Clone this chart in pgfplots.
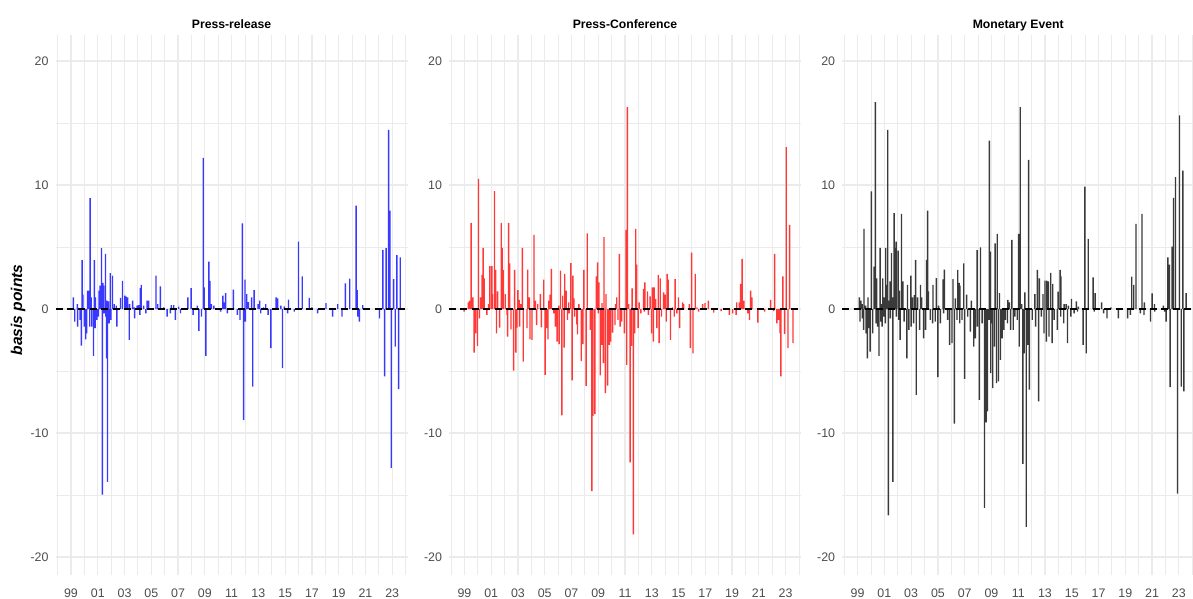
\documentclass[border=0pt]{standalone}
\usepackage{pgfplots}
\pgfplotsset{compat=1.18}
\usepackage{fontspec}
\setmainfont{Liberation Sans}
\definecolor{gridc}{HTML}{EBEBEB}
\definecolor{tickc}{HTML}{4D4D4D}
\definecolor{cblue}{HTML}{3838FF}
\definecolor{cred}{HTML}{FF3838}
\definecolor{cblack}{HTML}{3A3A3A}
\pgfplotsset{
 panel/.style={
  scale only axis, width=176pt, height=270pt,
  xmin=1997.85, xmax=2024.15, ymin=-21.45, ymax=22.1,
  axis line style={draw=none},
  major tick length=0pt, minor tick length=0pt,
  xtick={1999,2001,...,2023},
  xticklabels={99,01,03,05,07,09,11,13,15,17,19,21,23},
  minor xtick={1998,2000,...,2024},
  ytick={-20,-10,0,10,20},
  yticklabels={-20,-10,0,10,20},
  minor ytick={-15,-5,5,15},
  grid=both,
  major grid style={draw=gridc, line width=0.6pt},
  minor grid style={draw=gridc, line width=0.45pt},
  tick label style={font=\fontsize{6.2}{7}\selectfont, text=tickc},
  xticklabel style={yshift=-3.5pt},
  /pgf/number format/assume math mode=true,
  title style={font=\bfseries\fontsize{6.1}{7}\selectfont, at={(0.5,1)}, anchor=base, yshift=-3pt},
  anchor=south west,
 },
 bars/.style={ybar, bar width=0.7pt, bar shift=0pt, draw=none, no markers},
 zero/.style={black, line width=0.8pt, dash pattern=on 3.5pt off 2.2pt, no markers},
}
\begin{document}
\begin{tikzpicture}
\useasboundingbox (0,0) rectangle (596.5pt,299.5pt);
\node[rotate=90, font=\bfseries\itshape\fontsize{7.8}{9}\selectfont] at (9pt,144.5pt) {basis points};

% ---------------- Press-release ----------------
\begin{axis}[panel, at={(27.8pt,12pt)}, title={Press-release}]
\addplot[bars, fill=cblue] coordinates {
(1999.18,0.94)(1999.48,0.40)(1999.83,3.95)(1999.90,1.16)(2000.23,1.48)(2000.33,1.48)
(2000.43,8.95)(2000.50,0.94)(2000.75,3.95)(2000.83,0.94)(2001.10,1.48)(2001.18,1.88)
(2001.23,1.2)(2001.28,4.92)(2001.38,2.10)(2001.45,1.88)(2001.58,4.44)(2001.68,0.67)
(2001.80,0.62)(2001.93,2.90)(2002.10,2.69)(2002.23,0.40)(2002.38,0.27)(2002.70,0.89)
(2002.85,2.28)(2003.03,1.08)(2003.13,0.99)(2003.23,0.94)(2003.38,0.40)(2003.60,0.67)
(2003.73,0.13)(2003.93,0.27)(2004.05,0.32)(2004.18,1.69)(2004.25,1.94)(2004.43,0.27)
(2004.68,0.67)(2004.80,0.67)(2005.35,2.69)(2005.48,0.40)(2005.68,1.83)(2005.93,0.13)
(2006.50,0.32)(2006.68,0.32)(2007.05,0.19)(2007.73,0.94)(2007.98,1.69)(2008.43,0.27)
(2008.88,12.18)(2008.95,1.75)(2009.30,3.82)(2009.38,2.28)(2009.50,0.40)(2009.68,0.27)
(2010.35,1.08)(2010.43,0.54)(2010.55,1.29)(2011.13,1.56)(2011.80,6.91)(2012.00,2.37)
(2012.13,1.21)(2012.25,0.56)(2012.50,0.94)(2012.68,1.53)(2012.98,0.40)(2013.10,0.67)
(2013.38,0.13)(2013.55,0.40)(2014.33,0.94)(2014.45,0.86)(2014.68,0.27)(2014.93,0.22)
(2015.25,0.75)(2016.00,5.43)(2016.28,2.63)(2016.80,0.89)(2017.00,0.13)(2018.05,0.48)
(2018.93,0.40)(2019.50,2.07)(2019.83,2.45)(2020.30,8.33)(2020.38,1.53)(2020.80,0.32)
(2022.30,4.76)(2022.55,4.92)(2022.73,14.44)(2022.83,7.93)(2023.10,2.42)(2023.35,4.35)
(2023.60,4.17)
(1999.28,-1.02)(1999.50,-1.42)(1999.68,-0.88)(1999.78,-2.95)(2000.00,-1.42)(2000.10,-2.44)
(2000.18,-1.96)(2000.40,-1.42)(2000.55,-1.42)(2000.68,-3.78)(2000.80,-1.55)(2000.93,-0.88)
(2001.05,-0.62)(2001.35,-14.96)(2001.48,-0.35)(2001.60,-0.62)(2001.65,-3.97)(2001.73,-13.94)
(2001.85,-1.15)(2001.98,-0.88)(2002.43,-1.42)(2003.35,-2.49)(2003.75,-0.75)(2004.15,-0.48)
(2004.60,-0.35)(2006.18,-0.62)(2006.43,-0.35)(2006.80,-0.88)(2007.18,-0.35)(2008.13,-0.48)
(2008.55,-1.77)(2008.75,-0.62)(2009.08,-3.78)(2010.18,-0.21)(2010.68,-0.35)(2011.43,-0.48)
(2011.63,-0.88)(2011.90,-8.93)(2012.03,-1.02)(2012.58,-6.25)(2013.18,-0.35)(2013.73,-0.48)
(2013.93,-3.16)(2014.80,-4.77)(2015.18,-0.35)(2015.68,-0.21)(2017.43,-0.35)(2018.55,-0.62)
(2019.25,-0.62)(2020.43,-0.62)(2020.55,-1.02)(2022.05,-0.75)(2022.43,-5.44)(2022.93,-12.82)
(2023.23,-3.03)(2023.48,-6.46)
};
\addplot[zero] coordinates {(1997.85,0) (2024.15,0)};
\end{axis}

% ---------------- Press-Conference ----------------
\begin{axis}[panel, at={(224.5pt,12pt)}, title={Press-Conference}]
\addplot[bars, fill=cred] coordinates {
(1999.30,0.54)(1999.38,0.67)(1999.50,6.94)(1999.63,0.94)(2000.05,10.50)(2000.20,0.94)
(2000.33,2.75)(2000.40,4.93)(2000.48,2.48)(2000.80,0.40)(2000.90,3.45)(2001.05,3.45)
(2001.10,1.21)(2001.25,9.50)(2001.33,3.15)(2001.48,1.43)(2001.75,6.94)(2001.83,4.93)
(2001.90,3.15)(2002.05,1.21)(2002.30,6.94)(2002.38,3.69)(2002.75,3.15)(2003.00,1.53)
(2003.10,0.73)(2003.20,0.40)(2003.33,4.93)(2003.73,3.18)(2003.85,0.94)(2004.20,5.98)
(2004.30,0.67)(2004.48,0.40)(2004.68,1.21)(2004.93,2.37)(2005.30,0.67)(2005.40,1.16)
(2005.50,3.23)(2006.05,0.27)(2006.18,3.10)(2006.35,1.08)(2006.50,2.83)(2006.60,1.48)
(2006.80,0.54)(2006.95,3.71)(2007.10,2.69)(2007.18,0.86)(2007.55,0.40)(2007.93,3.15)
(2008.18,6.11)(2008.85,2.64)(2008.95,3.77)(2009.05,2.15)(2009.28,0.48)(2009.43,5.79)
(2009.58,1.21)(2010.30,0.40)(2010.38,0.94)(2010.58,4.44)(2011.08,6.38)(2011.18,16.29)
(2011.28,0.40)(2011.53,1.67)(2011.80,6.46)(2011.88,3.58)(2012.05,0.54)(2012.38,1.62)
(2012.48,2.15)(2012.68,1.43)(2012.88,1.02)(2013.05,1.75)(2013.18,1.75)(2013.30,0.81)
(2013.48,2.75)(2013.63,2.48)(2013.88,1.35)(2014.00,1.16)(2014.15,2.83)(2014.23,2.37)
(2014.55,0.13)(2014.75,2.42)(2015.00,0.94)(2015.30,0.54)(2015.38,0.40)(2015.80,0.40)
(2015.98,4.55)(2016.25,2.83)(2016.38,0.13)(2016.80,0.40)(2016.98,0.48)(2017.23,0.67)
(2019.35,0.54)(2019.55,0.54)(2019.63,2.02)(2019.75,4.04)(2019.88,0.67)(2020.38,1.48)
(2020.48,0.94)(2021.88,0.73)(2022.18,4.44)(2022.80,2.64)(2023.05,13.06)(2023.30,6.78)
(1998.98,-0.21)(1999.73,-3.51)(1999.85,-1.96)(1999.98,-2.98)(2000.13,-0.75)(2000.68,-0.48)
(2001.40,-1.96)(2001.63,-1.50)(2002.18,-0.48)(2002.23,-2.23)(2002.48,-1.64)(2002.68,-4.96)
(2002.85,-3.51)(2002.93,-1.50)(2003.13,-1.42)(2003.40,-4.24)(2003.68,-1.55)(2003.90,-2.44)
(2004.05,-2.49)(2004.40,-1.29)(2004.75,-1.47)(2005.03,-5.31)(2005.15,-1.55)(2005.25,-2.44)
(2005.68,-0.35)(2005.80,-1.42)(2005.93,-2.63)(2006.08,-2.84)(2006.28,-8.58)(2006.45,-3.11)
(2006.70,-0.88)(2006.83,-0.35)(2007.05,-5.76)(2007.23,-0.62)(2007.40,-1.23)(2007.45,-2.04)
(2007.73,-4.21)(2007.85,-2.84)(2008.10,-6.19)(2008.40,-1.69)(2008.53,-14.69)(2008.60,-8.61)
(2008.75,-8.47)(2009.00,-0.35)(2009.15,-5.36)(2009.25,-2.90)(2009.38,-4.37)(2009.53,-6.78)
(2009.70,-6.17)(2009.83,-2.90)(2009.93,-2.63)(2010.08,-1.90)(2010.25,-1.29)(2010.48,-0.88)
(2010.63,-1.42)(2010.75,-1.02)(2010.95,-1.96)(2011.13,-4.50)(2011.38,-12.36)(2011.48,-2.98)
(2011.63,-18.18)(2011.73,-1.96)(2011.98,-1.55)(2012.18,-0.35)(2012.45,-0.21)(2012.75,-0.48)
(2012.98,-1.96)(2013.12,-2.63)(2013.38,-1.55)(2013.55,-2.76)(2013.73,-0.62)(2014.08,-1.02)
(2014.40,-2.49)(2014.68,-0.62)(2014.88,-0.35)(2015.08,-1.55)(2015.88,-3.16)(2016.08,-3.57)
(2016.50,-0.21)(2017.63,-0.29)(2018.18,-0.16)(2018.80,-0.48)(2019.05,-0.35)(2019.30,-0.48)
(2020.18,-0.35)(2020.30,-0.88)(2020.93,-1.10)(2021.43,-0.21)(2022.10,-0.16)(2022.35,-1.15)
(2022.48,-0.88)(2022.58,-1.96)(2022.65,-5.44)(2022.93,-2.01)(2023.18,-3.16)(2023.55,-2.76)
};
\addplot[zero] coordinates {(1997.85,0) (2024.15,0)};
\end{axis}

% ---------------- Monetary Event ----------------
\begin{axis}[panel, at={(421.1pt,12pt)}, title={Monetary Event}]
\addplot[bars, fill=cblack] coordinates {
(1999.13,0.94)(1999.25,0.67)(1999.35,0.40)(1999.48,6.46)(1999.60,0.27)(1999.78,0.94)
(2000.03,9.48)(2000.23,3.42)(2000.33,16.69)(2000.43,2.48)(2000.68,4.93)(2000.78,0.40)
(2000.88,2.48)(2000.98,0.94)(2001.10,4.93)(2001.18,1.94)(2001.25,14.45)(2001.33,0.67)
(2001.43,2.23)(2001.53,4.50)(2001.63,0.94)(2001.73,7.73)(2001.80,4.93)(2001.88,5.44)
(2002.03,4.71)(2002.13,1.48)(2002.28,7.67)(2002.38,2.23)(2002.73,1.94)(2002.98,2.69)
(2003.10,0.94)(2003.23,1.13)(2003.33,3.96)(2003.48,0.94)(2003.70,1.94)(2003.78,0.94)
(2004.15,3.96)(2004.23,7.94)(2004.30,1.43)(2004.63,1.94)(2004.88,2.50)(2005.05,0.27)
(2005.38,2.40)(2005.48,3.18)(2006.13,2.42)(2006.30,0.86)(2006.48,3.15)(2006.58,2.10)
(2006.65,1.88)(2006.93,3.69)(2007.15,1.16)(2007.50,0.67)(2007.93,4.76)(2008.18,4.98)
(2008.85,13.59)(2008.93,4.63)(2009.28,5.30)(2009.43,6.06)(2009.60,1.29)(2010.23,0.73)
(2010.35,0.54)(2010.53,5.57)(2011.03,6.06)(2011.15,16.29)(2011.25,0.40)(2011.50,1.35)
(2011.78,12.03)(2012.25,1.21)(2012.43,3.15)(2012.58,2.48)(2012.85,1.21)(2013.00,2.29)
(2013.13,2.29)(2013.25,2.23)(2013.43,2.91)(2013.58,2.02)(2013.98,1.40)(2014.13,3.15)
(2014.20,2.64)(2014.43,0.40)(2014.58,0.40)(2014.75,0.27)(2014.98,0.81)(2015.35,0.62)
(2015.50,0.19)(2015.98,9.88)(2016.23,5.65)(2016.60,2.56)(2016.75,1.29)(2017.23,0.54)
(2017.93,0.13)(2019.48,2.61)(2019.63,1.94)(2019.80,6.86)(2020.25,7.67)(2020.43,0.54)
(2021.00,1.27)(2021.18,0.40)(2021.85,0.27)(2022.18,4.17)(2022.30,3.58)(2022.50,5.03)
(2022.60,8.96)(2022.75,10.63)(2023.05,15.61)(2023.30,11.17)(2023.55,1.29)
(1999.18,-1.02)(1999.35,-0.75)(1999.45,-1.69)(1999.63,-1.96)(1999.73,-3.97)(1999.83,-1.55)
(1999.93,-3.43)(2000.13,-1.96)(2000.38,-1.15)(2000.50,-1.42)(2000.60,-3.78)(2000.73,-1.02)
(2000.83,-1.42)(2000.95,-0.62)(2001.08,-1.15)(2001.30,-16.65)(2001.45,-0.75)(2001.63,-13.94)
(2001.90,-0.62)(2002.08,-0.88)(2002.18,-2.49)(2002.48,-1.02)(2002.68,-3.97)(2002.83,-1.69)
(2003.00,-1.42)(2003.18,-1.15)(2003.38,-6.92)(2003.63,-1.69)(2003.93,-2.36)(2004.08,-1.69)
(2004.43,-0.88)(2004.60,-1.15)(2004.80,-1.02)(2005.00,-5.50)(2005.18,-1.15)(2005.43,-0.35)
(2005.73,-0.88)(2005.88,-2.90)(2006.05,-2.76)(2006.23,-9.25)(2006.43,-0.88)(2006.63,-1.15)
(2006.80,-0.88)(2007.00,-5.63)(2007.23,-0.62)(2007.43,-1.82)(2007.68,-3.03)(2007.80,-2.36)
(2007.95,-1.42)(2008.10,-7.32)(2008.30,-1.15)(2008.48,-16.03)(2008.60,-9.14)(2008.70,-8.26)
(2008.83,-0.88)(2008.95,-5.17)(2009.05,-1.15)(2009.10,-6.38)(2009.23,-3.03)(2009.38,-5.98)
(2009.53,-5.84)(2009.68,-4.10)(2009.80,-2.36)(2009.93,-1.69)(2010.05,-0.88)(2010.20,-1.15)
(2010.43,-1.69)(2010.63,-1.69)(2010.75,-0.62)(2010.93,-0.88)(2011.08,-3.03)(2011.35,-12.49)
(2011.45,-3.57)(2011.60,-17.56)(2011.70,-2.90)(2011.83,-6.51)(2012.05,-0.88)(2012.30,-1.42)
(2012.53,-7.45)(2012.73,-0.62)(2012.93,-1.96)(2013.10,-2.63)(2013.30,-2.23)(2013.53,-2.76)
(2013.68,-0.88)(2013.93,-1.69)(2014.18,-0.62)(2014.40,-1.15)(2014.68,-2.76)(2014.93,-0.62)
(2015.18,-0.35)(2015.43,-0.21)(2015.85,-2.90)(2016.08,-3.57)(2016.68,-0.21)(2017.38,-0.35)
(2017.63,-0.75)(2018.48,-0.75)(2019.18,-0.75)(2019.38,-0.48)(2020.13,-0.35)(2020.40,-0.48)
(2020.88,-1.02)(2021.20,-0.21)(2021.93,-0.21)(2022.05,-1.02)(2022.35,-6.30)(2022.90,-14.88)
(2023.18,-6.25)(2023.38,-6.65)
};
\addplot[zero] coordinates {(1997.85,0) (2024.15,0)};
\end{axis}
\end{tikzpicture}
\end{document}
